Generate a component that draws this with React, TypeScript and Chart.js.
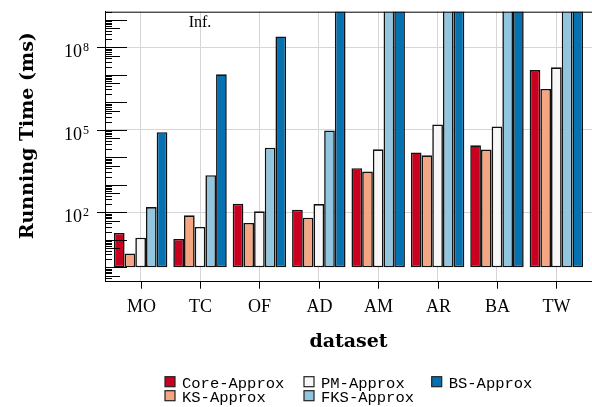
import React, { useEffect, useRef } from "react";
import { Chart, registerables } from "chart.js";

Chart.register(...registerables);

const categories = ["MO", "TC", "OF", "AD", "AM", "AR", "BA", "TW"];
const INF = 1e12;
const seriesNames = ["Core-Approx", "KS-Approx", "PM-Approx", "FKS-Approx", "BS-Approx"];
const seriesColors = ["#ca0020", "#f4a582", "#f7f7f7", "#92c5de", "#0571b0"];
const coreApprox = [17.8, 10.8, 205, 124, 4030, 15200, 27400, 1.5e7];
const ksApprox = [3.2, 78, 41, 64, 3060, 11900, 19200, 3.1e6];
const pmApprox = [12, 29.3, 109, 200, 19600, 1.58e5, 1.33e5, 1.9e7];
const fksApprox = [156, 2250, 22600, 96000, INF, INF, INF, INF];
const bsApprox = [83000, 1.05e7, 2.5e8, INF, INF, INF, INF, INF];
const seriesValues = [coreApprox, ksApprox, pmApprox, fksApprox, bsApprox];
const yTickExponents = [2, 5, 8];
const barBase = 1;
const yMin = 0.332;
const yMax = 2e9;

const overlay = {
  id: "overlay",
  afterDraw(chart: any) {
    const ctx = chart.ctx;
    const a = chart.chartArea;
    const xs = chart.scales.x;
    const ys = chart.scales.y;
    ctx.save();
    ctx.strokeStyle = "#000";
    ctx.fillStyle = "#000";
    ctx.lineWidth = 1;
    // top border
    ctx.beginPath();
    ctx.moveTo(a.left, a.top + 0.5);
    ctx.lineTo(592, a.top + 0.5);
    ctx.stroke();
    // y minor ticks (inward)
    for (let k = -1; k <= 9; k++) {
      for (let m = 1; m <= 9; m++) {
        const v = m * Math.pow(10, k);
        if (v < yMin || v > yMax) continue;
        const py = Math.round(ys.getPixelForValue(v)) + 0.5;
        const len = m === 1 ? 22 : m === 5 ? 15 : 7;
        ctx.beginPath();
        ctx.moveTo(a.left, py);
        ctx.lineTo(a.left + len, py);
        ctx.stroke();
      }
    }
    // major outward ticks + labels
    yTickExponents.forEach((e) => {
      const py = Math.round(ys.getPixelForValue(Math.pow(10, e))) + 0.5;
      ctx.beginPath();
      ctx.moveTo(a.left - 8, py);
      ctx.lineTo(a.left, py);
      ctx.stroke();
      ctx.font = '12px "Liberation Serif"';
      ctx.textAlign = "right";
      ctx.textBaseline = "alphabetic";
      const expW = ctx.measureText(String(e)).width;
      const rightX = a.left - 16;
      ctx.fillText(String(e), rightX, py + 3.5);
      ctx.font = '18px "Liberation Serif"';
      ctx.fillText("10", rightX - expW - 1, py + 9);
    });
    // x ticks and labels
    categories.forEach((c, i) => {
      const px = Math.round(xs.getPixelForValue(i)) + 0.5;
      ctx.beginPath();
      ctx.moveTo(px, a.bottom);
      ctx.lineTo(px, a.bottom + 7);
      ctx.stroke();
      ctx.font = '18px "Liberation Serif"';
      ctx.textAlign = "center";
      ctx.textBaseline = "alphabetic";
      ctx.fillText(c, px, a.bottom + 30);
    });
    // x title
    ctx.font = 'bold 19px "DejaVu Serif"';
    ctx.textAlign = "center";
    ctx.fillText("dataset", (a.left + 592) / 2, a.bottom + 65.5);
    // y title
    ctx.save();
    ctx.translate(33, (a.top + a.bottom) / 2 - 11);
    ctx.rotate(-Math.PI / 2);
    ctx.textAlign = "center";
    ctx.textBaseline = "alphabetic";
    ctx.fillText("Running Time (ms)", 0, 0);
    ctx.restore();
    // Inf label
    ctx.font = '16px "Liberation Serif"';
    ctx.textAlign = "center";
    ctx.textBaseline = "alphabetic";
    ctx.fillText("Inf.", xs.getPixelForValue(1), a.top + 15.5);
    // legend
    const colX = [165, 304, 431.7];
    const rowY = [376.7, 390.7];
    ctx.font = '15.5px "Liberation Mono"';
    ctx.textAlign = "left";
    seriesNames.forEach((name, i) => {
      const col = Math.floor(i / 2);
      const row = i % 2;
      const bx = colX[col];
      const by = rowY[row];
      ctx.fillStyle = seriesColors[i];
      ctx.fillRect(bx, by, 10, 10);
      ctx.strokeStyle = "#222";
      ctx.lineWidth = 1.2;
      ctx.strokeRect(bx, by, 10, 10);
      ctx.fillStyle = "#000";
      ctx.fillText(name, bx + 17, by + 11.6);
    });
    ctx.restore();
  },
};

export default function App() {
  const ref = useRef<HTMLCanvasElement | null>(null);
  useEffect(() => {
    document.body.style.margin = "0";
    if (!ref.current) return;
    const chart = new Chart(ref.current, {
      type: "bar",
      data: {
        datasets: seriesNames.map((name, si) => ({
          label: name,
          data: seriesValues[si].map((v, i) => ({ x: i, y: [barBase, v] })),
          backgroundColor: seriesColors[si],
          borderColor: "#111",
          borderWidth: 1.6,
          borderSkipped: false,
          categoryPercentage: 0.9,
          barPercentage: 1,
          clip: 0,
        })),
      },
      options: {
        responsive: false,
        animation: false,
        devicePixelRatio: 1,
        layout: { padding: { left: 105, top: 11.7, right: 0, bottom: 125.3 } },
        plugins: { legend: { display: false }, tooltip: { enabled: false } },
        scales: {
          x: {
            type: "linear",
            offset: false,
            min: -0.6,
            max: 7.6,
            afterBuildTicks: (s: any) => {
              s.ticks = categories.map((_, i) => ({ value: i }));
            },
            ticks: { display: false },
            grid: { color: "#d6d6d6", lineWidth: 1, drawTicks: false, offset: false },
            border: { color: "#000", width: 1 },
          },
          y: {
            type: "logarithmic",
            min: yMin,
            max: yMax,
            afterBuildTicks: (s: any) => {
              s.ticks = yTickExponents.map((e) => ({ value: Math.pow(10, e) }));
            },
            ticks: { display: false },
            grid: { color: "#d6d6d6", lineWidth: 1, drawTicks: false },
            border: { color: "#000", width: 1 },
          },
        },
      } as any,
      plugins: [overlay],
    });
    return () => chart.destroy();
  }, []);
  return (
    <div style={{ width: 592, height: 407 }}>
      <canvas ref={ref} width={592} height={407} style={{ display: "block" }} />
    </div>
  );
}
